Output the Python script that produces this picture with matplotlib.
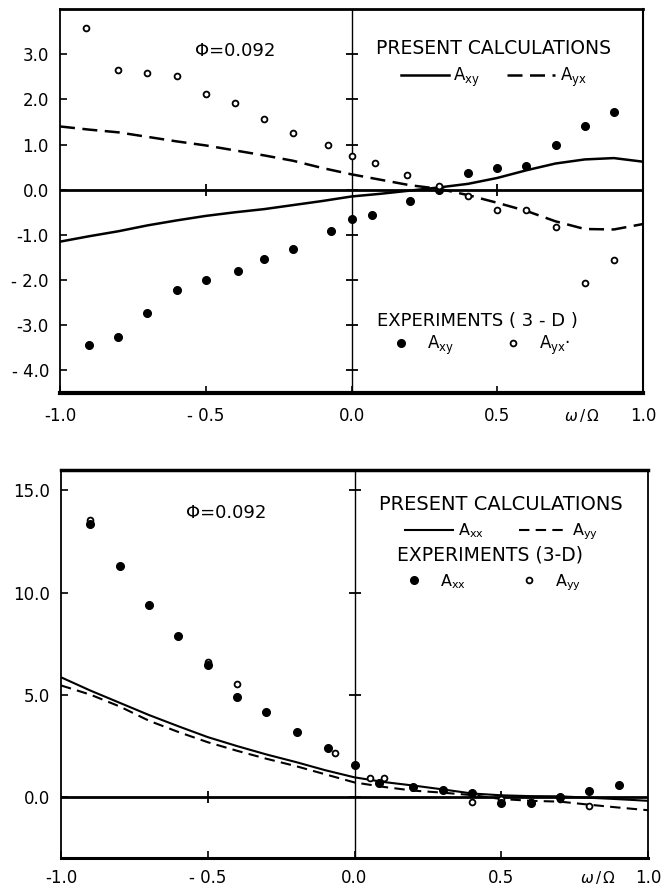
import numpy as np
import matplotlib
matplotlib.use("Agg")
import matplotlib.pyplot as plt

plt.rcParams['font.family'] = ['DejaVu Sans']
plt.rcParams['axes.unicode_minus'] = False
plt.rcParams['mathtext.fontset'] = 'dejavusans'

# ---------------- Top panel data ----------------
x_calc = [-1.0, -0.9, -0.8, -0.7, -0.6, -0.5, -0.4, -0.3, -0.2, -0.1, 0.0,
          0.1, 0.2, 0.3, 0.4, 0.5, 0.6, 0.7, 0.8, 0.9, 1.0]
axy_calc = [-1.15, -1.03, -0.92, -0.79, -0.68, -0.58, -0.50, -0.43, -0.34, -0.25, -0.15,
            -0.09, -0.02, 0.05, 0.13, 0.26, 0.43, 0.58, 0.67, 0.70, 0.62]
ayx_calc = [1.40, 1.33, 1.27, 1.17, 1.07, 0.98, 0.87, 0.76, 0.64, 0.48, 0.34,
            0.22, 0.10, 0.02, -0.12, -0.29, -0.47, -0.70, -0.87, -0.88, -0.76]

x_axy_exp = [-0.90, -0.80, -0.70, -0.60, -0.50, -0.39, -0.30, -0.20, -0.07, 0.0,
             0.07, 0.20, 0.30, 0.40, 0.50, 0.60, 0.70, 0.80, 0.90]
axy_exp = [-3.43, -3.25, -2.74, -2.22, -2.00, -1.81, -1.53, -1.31, -0.92, -0.65,
           -0.56, -0.24, 0.0, 0.36, 0.48, 0.52, 0.98, 1.40, 1.71]
x_ayx_exp = [-0.91, -0.80, -0.70, -0.60, -0.50, -0.40, -0.30, -0.20, -0.08, 0.0,
             0.08, 0.19, 0.30, 0.40, 0.50, 0.60, 0.70, 0.80, 0.90]
ayx_exp = [3.59, 2.64, 2.59, 2.51, 2.11, 1.92, 1.56, 1.25, 0.98, 0.75,
           0.59, 0.32, 0.08, -0.14, -0.44, -0.45, -0.83, -2.07, -1.56]

top_yticks = [-4, -3, -2, -1, 0, 1, 2, 3]
top_yticklabels = ["- 4.0", "-3.0", "- 2.0", "-1.0", "0.0", "1.0", "2.0", "3.0"]

# ---------------- Bottom panel data ----------------
axx_calc = [5.85, 5.20, 4.60, 4.00, 3.45, 2.92, 2.48, 2.07, 1.70, 1.30, 0.95,
            0.72, 0.55, 0.36, 0.16, 0.07, 0.03, 0.02, -0.05, -0.12, -0.20]
ayy_calc = [5.45, 5.00, 4.42, 3.72, 3.17, 2.67, 2.25, 1.86, 1.50, 1.10, 0.70,
            0.48, 0.30, 0.20, 0.08, -0.11, -0.20, -0.24, -0.39, -0.53, -0.66]

x_axx_exp = [-0.90, -0.80, -0.70, -0.60, -0.50, -0.40, -0.30, -0.195, -0.09, 0.0,
             0.083, 0.20, 0.30, 0.40, 0.50, 0.60, 0.70, 0.80, 0.90]
axx_exp = [13.38, 11.30, 9.39, 7.87, 6.45, 4.86, 4.17, 3.17, 2.40, 1.54,
           0.69, 0.50, 0.31, 0.16, -0.33, -0.30, 0.0, 0.30, 0.58]
x_ayy_exp = [-0.90, -0.50, -0.40, -0.065, 0.054, 0.10, 0.40, 0.50, 0.60, 0.70, 0.80]
ayy_exp = [13.55, 6.60, 5.52, 2.15, 0.92, 0.92, -0.28, -0.13, -0.25, -0.13, -0.43]

bot_yticks = [0, 5, 10, 15]
bot_yticklabels = ["0.0", "5.0", "10.0", "15.0"]

x_ticks = [-1.0, -0.5, 0.0, 0.5, 1.0]
x_ticklabels = ["-1.0", "- 0.5", "0.0", "0.5", "1.0"]

W, H = 668, 890
fig = plt.figure(figsize=(W / 100, H / 100), dpi=100)
ax1 = fig.add_axes([60 / W, 1 - 393 / H, 583 / W, 384 / H])
ax2 = fig.add_axes([61 / W, 1 - 858 / H, 587 / W, 388 / H])


def style_axes(ax, yticks, yticklabels, ylim, spine_w, xpad):
    ax.set_xlim(-1.0, 1.0)
    ax.set_ylim(*ylim)
    ax.set_xticks(x_ticks)
    ax.set_xticklabels(x_ticklabels)
    ax.set_yticks(yticks)
    ax.set_yticklabels(yticklabels)
    ax.tick_params(axis='both', direction='in', length=5, width=1.2,
                   labelsize=12, colors='black')
    ax.tick_params(axis='x', pad=xpad)
    ax.tick_params(axis='y', pad=8)
    for side, w in spine_w.items():
        ax.spines[side].set_linewidth(w)
        ax.spines[side].set_color('black')
    ax.axhline(0, color='black', lw=2.0, zorder=2)
    ax.axvline(0, color='black', lw=1.0, zorder=2)
    # tick crosses along the internal axes
    ax.plot(np.zeros(len(yticks)), yticks, ls='none', marker='_', ms=9, mew=1.3,
            color='black', zorder=3)
    ax.plot([-0.5, 0.5], [0, 0], ls='none', marker='|', ms=8, mew=1.3,
            color='black', zorder=3)


style_axes(ax1, top_yticks, top_yticklabels, (-4.5, 4.0),
           {'left': 1.3, 'bottom': 3.0, 'top': 2.0, 'right': 1.5}, 10)
style_axes(ax2, bot_yticks, bot_yticklabels, (-3.0, 16.0),
           {'left': 1.3, 'bottom': 2.2, 'top': 2.5, 'right': 1.3}, 8)
ax1.text(0.895, -0.058, r"$\omega\,/\,\Omega$", transform=ax1.transAxes,
         fontsize=11, ha='center', va='center')
ax2.text(0.915, -0.05, r"$\omega\,/\,\Omega$", transform=ax2.transAxes,
         fontsize=11, ha='center', va='center')

# ---------------- Top panel ----------------
l1, = ax1.plot(x_calc, axy_calc, color='black', lw=1.8, label=r"A$_{\rm xy}$")
l2, = ax1.plot(x_calc, ayx_calc, color='black', lw=1.8, dashes=(6, 3),
               label=r"A$_{\rm yx}$")
p1, = ax1.plot(x_axy_exp, axy_exp, ls='none', marker='o', ms=5.5, color='black',
               label=r"A$_{\rm xy}$", zorder=4)
p2, = ax1.plot(x_ayx_exp, ayx_exp, ls='none', marker='o', ms=4.2, mfc='white',
               mec='black', mew=1.3, label=r"A$_{\rm yx}$·", zorder=5)

ax1.text(-0.537, 3.06, "Φ=0.092", fontsize=13, ha='left', va='center')

leg1 = ax1.legend(handles=[l1, l2], ncol=2, frameon=False, loc='center',
                  bbox_to_anchor=(0.744, 0.857), title="PRESENT CALCULATIONS",
                  title_fontsize=13.5, fontsize=12, handlelength=2.9,
                  handletextpad=0.25, columnspacing=1.6, borderpad=0,
                  borderaxespad=0)
ax1.add_artist(leg1)
leg2 = ax1.legend(handles=[p1, p2], ncol=2, frameon=False, loc='center',
                  bbox_to_anchor=(0.716, 0.152), title="EXPERIMENTS ( 3 - D )",
                  title_fontsize=13, fontsize=12, handlelength=2.0,
                  handletextpad=0.6, columnspacing=2.5, borderpad=0,
                  borderaxespad=0, labelspacing=0.2)

# ---------------- Bottom panel ----------------
m1, = ax2.plot(x_calc, axx_calc, color='black', lw=1.5, label=r"A$_{\rm xx}$")
m2, = ax2.plot(x_calc, ayy_calc, color='black', lw=1.5, dashes=(5, 3),
               label=r"A$_{\rm yy}$")
q1, = ax2.plot(x_axx_exp, axx_exp, ls='none', marker='o', ms=5.5, color='black',
               label=r"A$_{\rm xx}$", zorder=4)
q2, = ax2.plot(x_ayy_exp, ayy_exp, ls='none', marker='o', ms=4.2, mfc='white',
               mec='black', mew=1.3, label=r"A$_{\rm yy}$", zorder=3)

ax2.text(-0.575, 13.9, "Φ=0.092", fontsize=13, ha='left', va='center')

leg3 = ax2.legend(handles=[m1, m2], ncol=2, frameon=False, loc='center',
                  bbox_to_anchor=(0.750, 0.875), title="PRESENT CALCULATIONS",
                  title_fontsize=14, fontsize=11.5, handlelength=3.0,
                  handletextpad=0.3, columnspacing=2.2, borderpad=0,
                  borderaxespad=0)
ax2.add_artist(leg3)
leg4 = ax2.legend(handles=[q1, q2], ncol=2, frameon=False, loc='center',
                  bbox_to_anchor=(0.730, 0.745), title="EXPERIMENTS (3-D)",
                  title_fontsize=13.5, fontsize=11.5, handlelength=2.0,
                  handletextpad=0.6, columnspacing=3.0, borderpad=0,
                  borderaxespad=0)

fig.savefig("out.png", dpi=100)
